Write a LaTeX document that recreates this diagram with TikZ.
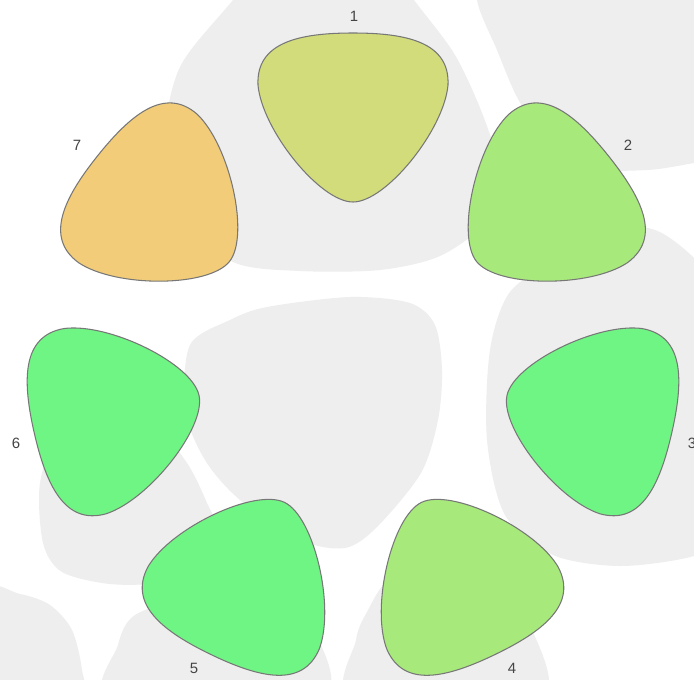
\documentclass[tikz,border=0pt]{standalone}
\usepackage{fontspec}
\setmainfont{Liberation Sans}

\definecolor{fondo}{HTML}{EEEEEE}
\definecolor{bordo}{HTML}{777777}
\definecolor{testo}{HTML}{444444}
\definecolor{giallo}{HTML}{D2DC7A}
\definecolor{verdechiaro}{HTML}{A8E97C}
\definecolor{verde}{HTML}{6FF583}
\definecolor{arancio}{HTML}{F2CC78}

\begin{document}
\begin{tikzpicture}[x=0.02cm, y=-0.02cm, line cap=round, line join=round,
  plettro/.style={draw=bordo, line width=0.6pt},
  numero/.style={font=\fontsize{8.5}{10}\selectfont, text=testo, inner sep=0pt}]

% cornice
\useasboundingbox (0,0) rectangle (694,680);
\clip (0,0) rectangle (694,680);
\fill[white] (0,0) rectangle (694,680);

% centro dell'anello
\coordinate (O) at (353,360);

% macchie di sfondo
\fill[fondo] plot[smooth cycle] coordinates {(300,-80) (233,0) (180,67) (165,140) (180,215) (233,262) (300,271) (380,270) (440,256) (485,222) (498,170) (484,118) (455,55) (414,0) (370,-60)};
\fill[fondo] plot[smooth cycle] coordinates {(477,0) (497,50) (517,97) (545,140) (590,168) (647,170) (694,163) (760,150) (770,-40) (600,-60) (480,-50)};
\fill[fondo] plot[smooth cycle] coordinates {(190,345) (230,320) (267,307) (350,297) (410,303) (435,325) (442,370) (438,420) (421,473) (377,527) (345,548) (300,540) (240,500) (205,460) (185,410)};
\fill[fondo] plot[smooth cycle] coordinates {(510,292) (560,258) (630,228) (670,238) (720,290) (760,400) (745,530) (694,556) (620,566) (553,555) (505,515) (487,440) (490,350)};
\fill[fondo] plot[smooth cycle] coordinates {(60,430) (40,483) (43,543) (62,572) (110,584) (160,582) (195,560) (213,523) (207,503) (187,463) (150,420) (100,410)};
\fill[fondo] plot[smooth cycle] coordinates {(-20,592) (20,594) (50,605) (72,630) (82,670) (84,720) (-20,720)};
\fill[fondo] plot[smooth cycle] coordinates {(113,700) (118,645) (135,615) (190,598) (260,600) (310,625) (320,700)};
\fill[fondo] plot[smooth cycle] coordinates {(354,700) (356,640) (367,612) (390,578) (440,560) (500,580) (528,620) (540,700)};

% plettri
\foreach \k/\col in {0/giallo,1/verdechiaro,2/verde,3/verdechiaro,4/verde,5/verde,6/arancio}
  \filldraw[plettro, fill=\col, rotate around={-\k*360/7:(O)}]
    (353,202) .. controls (320,202) and (262,130) .. (258,85)
    .. controls (256,42) and (300,33) .. (353,33)
    .. controls (406,33) and (450,42) .. (448,85)
    .. controls (444,130) and (386,202) .. cycle;

% etichette
\foreach \n/\x/\y in {1/354/16, 2/628/145, 3/692/443, 4/512/668, 5/194/668, 6/16/443, 7/77/145}
  \node[numero] (e\n) at (\x,\y) {\n};

\end{tikzpicture}
\end{document}
